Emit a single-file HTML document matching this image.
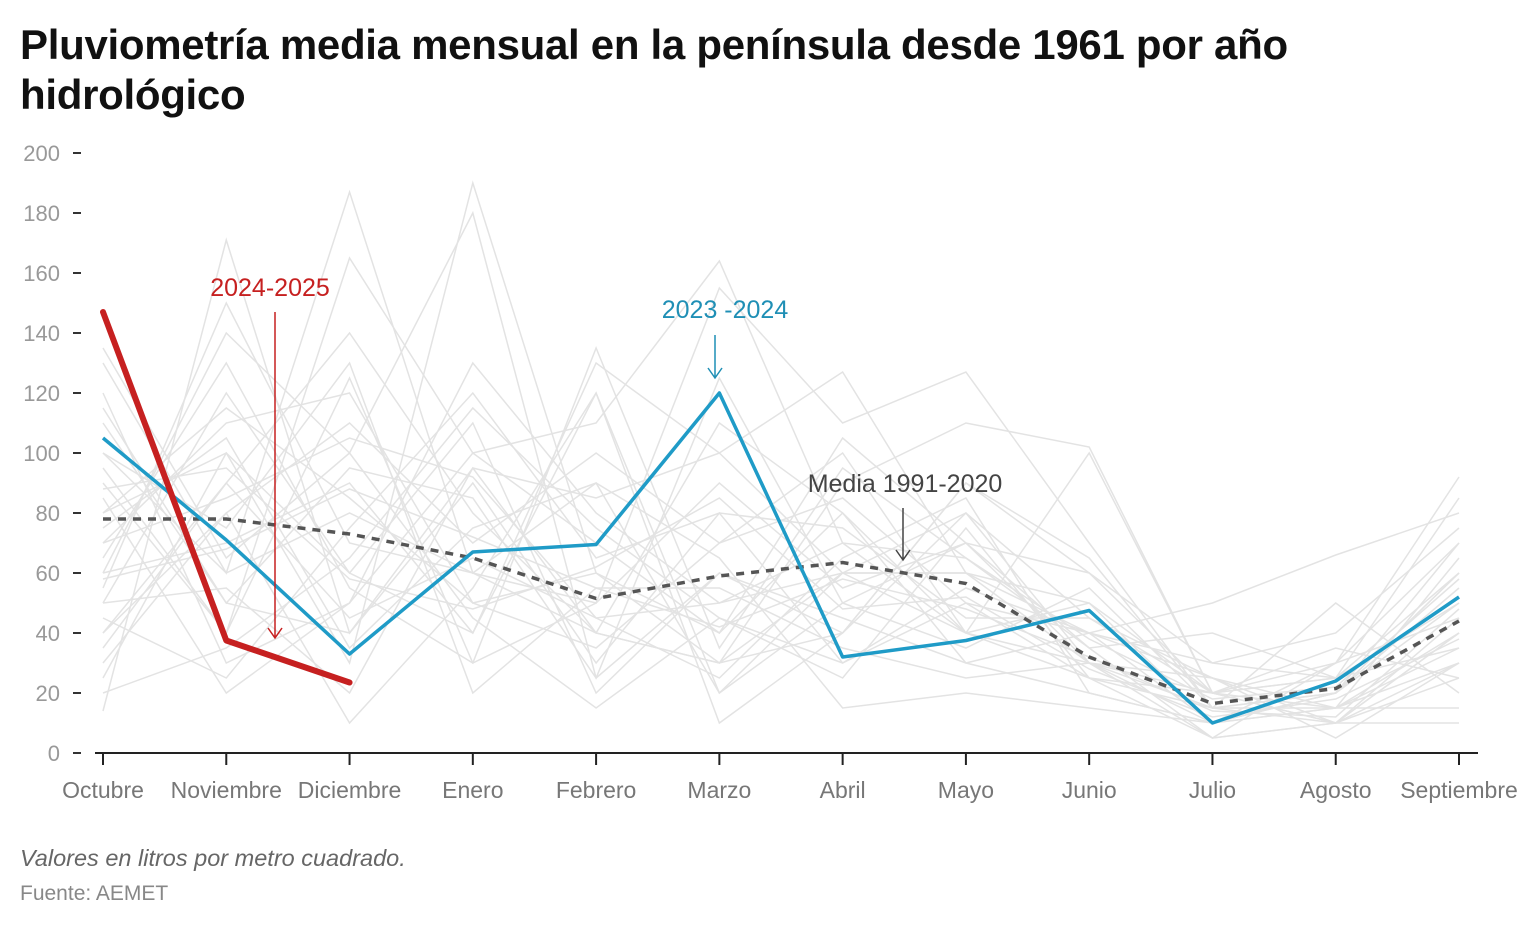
<!DOCTYPE html>
<html><head><meta charset="utf-8">
<style>
body{margin:0;background:#fff;font-family:"Liberation Sans",sans-serif;}
#wrap{position:relative;width:1540px;height:928px;overflow:hidden;}
h1{position:absolute;left:20px;top:20px;margin:0;font-size:42px;line-height:50px;font-weight:bold;color:#111;width:1320px;letter-spacing:-0.3px}
.foot1{position:absolute;left:20px;top:845px;font-size:23.5px;font-style:italic;color:#666}
.foot2{position:absolute;left:20px;top:882px;font-size:21px;color:#888}
</style></head><body>
<div id="wrap">
<h1>Pluviometría media mensual en la península desde 1961 por año hidrológico</h1>
<svg id="chart" width="1540" height="928" style="position:absolute;left:0;top:0"></svg>
<div class="foot1">Valores en litros por metro cuadrado.</div>
<div class="foot2">Fuente: AEMET</div>
</div>
<script>
const months=["Octubre","Noviembre","Diciembre","Enero","Febrero","Marzo","Abril","Mayo","Junio","Julio","Agosto","Septiembre"];
const yTicks=[0,20,40,60,80,100,120,140,160,180,200];
const s2024=[147,37.5,23.5];
const s2023=[105,71,33,67,69.5,120,32,37.5,47.5,10,24,52];
const sMedia=[78,78,73,65,51.5,59,63.5,56.5,32,16.5,21.5,44];
const grayYears=[
[14,171,40,95,40,30,60,80,45,25,10,30],
[130,60,187,60,90,20,50,70,30,15,20,60],
[80,100,30,190,60,40,80,30,40,10,15,40],
[60,140,100,180,25,60,40,90,60,20,30,92],
[90,40,165,100,110,164,70,40,100,20,25,50],
[50,120,60,40,130,100,127,60,30,25,15,30],
[100,60,80,60,50,155,110,127,70,15,20,70],
[40,90,140,80,40,30,90,110,102,20,10,40],
[120,30,50,130,80,50,60,60,40,50,66,80],
[70,110,120,50,60,30,40,80,30,5,10,25],
[30,80,110,70,100,70,100,40,50,20,25,60],
[110,50,40,90,30,80,30,50,25,15,50,20],
[60,70,90,40,120,20,60,40,30,10,20,50],
[25,100,60,110,20,60,45,30,20,10,15,35],
[95,40,125,30,50,90,55,70,60,30,40,75],
[55,150,70,60,40,110,80,40,25,20,10,10],
[85,20,50,100,70,40,105,70,35,5,30,45],
[40,80,10,55,120,10,40,90,65,15,15,65],
[135,65,100,45,15,45,30,55,40,25,5,30],
[75,105,35,75,90,65,15,20,15,10,20,55],
[45,25,75,120,65,80,75,45,45,20,35,25],
[65,130,55,30,135,35,95,65,35,40,25,85],
[115,50,95,85,25,125,50,35,55,15,10,40],
[35,90,45,65,45,25,65,85,20,10,30,70],
[100,75,130,20,55,55,35,25,30,20,15,15],
[50,55,20,95,85,100,60,60,50,10,20,60],
[80,115,85,50,35,70,85,50,40,30,25,35],
[20,35,65,115,75,45,25,75,25,5,10,45],
[88,95,58,48,62,85,48,52,28,12,18,38],
[70,85,105,92,45,50,70,65,38,18,22,58],
[58,68,88,72,55,42,58,48,32,14,12,48]
];
const svg=document.getElementById('chart');
const NS="http://www.w3.org/2000/svg";
const x0=103,xStep=(1459-103)/11,yBase=753,yScale=3;
function xs(i){return x0+i*xStep;}
function ys(v){return yBase-v*yScale;}
function el(t,a){const e=document.createElementNS(NS,t);for(const k in a)e.setAttribute(k,a[k]);svg.appendChild(e);return e;}
function pts(arr){return arr.map((v,i)=>xs(i)+","+ys(v)).join(" ");}
yTicks.forEach(t=>{
 const tx=el('text',{x:60,y:ys(t)+8,'text-anchor':'end','font-size':22,fill:'#999','font-family':'Liberation Sans, sans-serif'});
 tx.textContent=t;
 
 
 const l=el('line',{x1:73,x2:81,y1:ys(t),y2:ys(t),stroke:'#333','stroke-width':2});
 
 
});
grayYears.forEach(a=>{
 const p=el('polyline',{points:pts(a),fill:'none',stroke:'#e3e3e3','stroke-width':1.5});
 
 
});
const ax=el('line',{x1:95,x2:1478,y1:yBase,y2:yBase,stroke:'#222','stroke-width':2});


months.forEach((m,i)=>{
 const t=el('line',{x1:xs(i),x2:xs(i),y1:yBase,y2:yBase+12,stroke:'#222','stroke-width':2});
 
 
 const tx=el('text',{x:xs(i),y:798,'text-anchor':'middle','font-size':23,fill:'#777','font-family':'Liberation Sans, sans-serif'});
 tx.textContent=m;
 
 
});
const pm=el('polyline',{points:pts(sMedia),fill:'none',stroke:'#555','stroke-width':3.5,'stroke-dasharray':'8,7'});


const p23=el('polyline',{points:pts(s2023),fill:'none',stroke:'#1f9bc7','stroke-width':3.5,'stroke-linejoin':'round'});


const p24=el('polyline',{points:pts(s2024),fill:'none',stroke:'#c62020','stroke-width':6,'stroke-linejoin':'round','stroke-linecap':'round'});


function ann(label,tx,ty,color,ax1,ay1,ay2,name){
 const t=el('text',{x:tx,y:ty,'text-anchor':'middle','font-size':25,fill:color,'font-family':'Liberation Sans, sans-serif'});
 t.textContent=label;
 
 
 const g=el('path',{d:`M${ax1},${ay1}V${ay2}M${ax1-7},${ay2-10}L${ax1},${ay2}L${ax1+7},${ay2-10}`,fill:'none',stroke:color,'stroke-width':1.5});
 
 
}
ann('2024-2025',270,296,'#c62020',275,312,638,'annotation-2024-2025');
ann('2023 -2024',725,318,'#1f8fb5',715,335,378,'annotation-2023-2024');
ann('Media 1991-2020',905,492,'#444',903,508,560,'annotation-media');
</script>
</body></html>
